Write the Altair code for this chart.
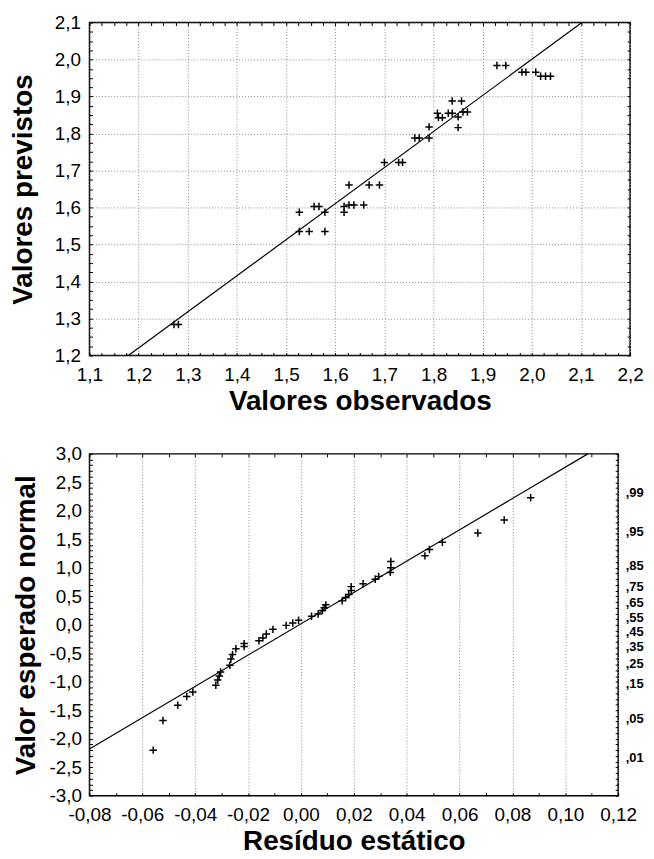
import altair as alt
import pandas as pd
from statistics import NormalDist

# ---------------- data: top panel (observed vs predicted) ----------------
observed = [1.272, 1.281, 1.527, 1.547, 1.579, 1.527, 1.557, 1.567, 1.579, 1.618,
            1.618, 1.628, 1.638, 1.658, 1.628, 1.669, 1.690, 1.700, 1.729, 1.737,
            1.762, 1.771, 1.791, 1.791, 1.808, 1.830, 1.838, 1.810, 1.818, 1.850,
            1.860, 1.869, 1.850, 1.838, 1.857, 1.929, 1.947, 1.980, 1.988, 2.008,
            2.018, 2.028, 2.038]
predicted = [1.284, 1.284, 1.535, 1.535, 1.535, 1.587, 1.603, 1.603, 1.587, 1.603,
             1.587, 1.607, 1.607, 1.607, 1.661, 1.661, 1.661, 1.722, 1.722, 1.722,
             1.788, 1.788, 1.788, 1.818, 1.855, 1.855, 1.855, 1.843, 1.843, 1.845,
             1.858, 1.858, 1.816, 1.888, 1.888, 1.984, 1.984, 1.966, 1.966, 1.966,
             1.955, 1.955, 1.955]
fit_x = [1.179, 2.102]
fit_y = [1.2, 2.1]

# ---------------- data: bottom panel (normal probability plot) ----------------
residual = [-0.0559, -0.0522, -0.0466, -0.0432, -0.0409, -0.0322, -0.0315, -0.0309,
            -0.0304, -0.0269, -0.0265, -0.0259, -0.0246, -0.0215, -0.0215, -0.0159,
            -0.0144, -0.0131, -0.0106, -0.0056, -0.0031, -0.0009, 0.0040, 0.0065,
            0.0081, 0.0088, 0.0094, 0.0156, 0.0169, 0.0181, 0.0190, 0.0190, 0.0235,
            0.0281, 0.0294, 0.0338, 0.0340, 0.0340, 0.0469, 0.0486, 0.0535, 0.0669,
            0.0769, 0.0869]
expected_normal = [-2.20, -1.68, -1.41, -1.26, -1.18, -1.06, -0.97, -0.90, -0.83, -0.71,
                   -0.60, -0.52, -0.42, -0.38, -0.33, -0.28, -0.23, -0.16, -0.08, -0.01,
                   0.03, 0.08, 0.15, 0.19, 0.25, 0.30, 0.35, 0.42, 0.48, 0.53, 0.60,
                   0.67, 0.72, 0.80, 0.85, 0.92, 1.00, 1.11, 1.21, 1.32, 1.45, 1.61,
                   1.84, 2.23]
qline_x = [-0.08, 0.1085]
qline_y = [-2.18, 3.0]

# ---------------- axis tick values ----------------
x1_ticks = [1.1, 1.2, 1.3, 1.4, 1.5, 1.6, 1.7, 1.8, 1.9, 2.0, 2.1, 2.2]
y1_ticks = [1.2, 1.3, 1.4, 1.5, 1.6, 1.7, 1.8, 1.9, 2.0, 2.1]
x2_ticks = [-0.08, -0.06, -0.04, -0.02, 0.0, 0.02, 0.04, 0.06, 0.08, 0.10, 0.12]
y2_ticks = [-3.0, -2.5, -2.0, -1.5, -1.0, -0.5, 0.0, 0.5, 1.0, 1.5, 2.0, 2.5, 3.0]
prob_ticks = [0.01, 0.05, 0.15, 0.25, 0.35, 0.45, 0.55, 0.65, 0.75, 0.85, 0.95, 0.99]
prob_z = [NormalDist().inv_cdf(p) for p in prob_ticks]

x1_minor = [round(1.1 + 0.025 * i, 3) for i in range(45)]
y1_minor = [round(1.2 + 0.025 * i, 3) for i in range(37)]
x2_minor = [round(-0.08 + 0.01 * i, 3) for i in range(21)]
y2_minor = [round(-3.0 + 0.1 * i, 2) for i in range(61)]

FONT = "Liberation Sans"
W1, H1 = 544, 335
W2, H2 = 532, 344
CROSS = "M -1 0 L 1 0 M 0 -1 L 0 1"

LBL1 = "replace(format(datum.value, '.1f'), '.', ',')"
LBL1S = "(datum.value < 0 ? '-' : '') + replace(format(abs(datum.value), '.1f'), '.', ',')"
LBL2S = "(datum.value < 0 ? '-' : '') + replace(format(abs(datum.value), '.2f'), '.', ',')"
LBLP = "replace(format(cumulativeNormal(datum.value), '.2f'), '0.', ',')"

label_style = dict(labelFont=FONT, labelFontSize=19, labelColor="black",
                   labelFlush=False, labelOverlap=False)
title_style = dict(titleFont=FONT, titleFontSize=28, titleFontWeight="bold",
                   titleColor="black")
grid_style = dict(grid=True, gridDash=[1, 2], gridColor="#8a8a8a", gridWidth=1)


def tick_axis(orient, offset, values):
    return alt.Axis(orient=orient, offset=offset, values=values, labels=False,
                    domain=False, grid=False, ticks=True, tickSize=3,
                    tickColor="black", tickWidth=1, title=None)


# ---------------- top panel ----------------
top_df = pd.DataFrame({"obs": observed, "pred": predicted})
fit_df = pd.DataFrame({"x": fit_x, "y": fit_y})
xs1 = alt.Scale(domain=[1.1, 2.2], nice=False, zero=False)
ys1 = alt.Scale(domain=[1.2, 2.1], nice=False, zero=False)

pts1 = alt.Chart(top_df).mark_point(
    shape=CROSS, size=56, filled=False, color="black", strokeWidth=1.5, opacity=1
).encode(
    x=alt.X("obs:Q", scale=xs1, axis=alt.Axis(
        orient="bottom", values=x1_ticks, labelExpr=LBL1, ticks=False, domain=False,
        labelPadding=10, title="Valores observados", titlePadding=3,
        **label_style, **title_style, **grid_style)),
    y=alt.Y("pred:Q", scale=ys1, axis=alt.Axis(
        orient="left", values=y1_ticks, labelExpr=LBL1, ticks=False, domain=False,
        labelPadding=9, minExtent=40, maxExtent=40,
        title="Valores previstos", titlePadding=12,
        **label_style, **title_style, **grid_style)),
)
line1 = alt.Chart(fit_df).mark_line(color="black", strokeWidth=1.2).encode(
    x=alt.X("x:Q", scale=xs1, axis=tick_axis("top", -H1, x1_minor)),
    y=alt.Y("y:Q", scale=ys1, axis=tick_axis("right", -W1, y1_minor)),
)
dummy1 = alt.Chart(fit_df).mark_line(opacity=0).encode(
    x=alt.X("x:Q", scale=xs1, axis=tick_axis("bottom", -H1, x1_minor)),
    y=alt.Y("y:Q", scale=ys1, axis=tick_axis("left", -W1, y1_minor)),
)
top = alt.layer(pts1, line1, dummy1).resolve_axis(
    x="independent", y="independent"
).properties(width=W1, height=H1)

# ---------------- bottom panel ----------------
bot_df = pd.DataFrame({"res": residual, "z": expected_normal})
ql_df = pd.DataFrame({"x": qline_x, "y": qline_y})
xs2 = alt.Scale(domain=[-0.08, 0.12], nice=False, zero=False)
ys2 = alt.Scale(domain=[-3.0, 3.0], nice=False, zero=False)

pts2 = alt.Chart(bot_df).mark_point(
    shape=CROSS, size=56, filled=False, color="black", strokeWidth=1.5, opacity=1
).encode(
    x=alt.X("res:Q", scale=xs2, axis=alt.Axis(
        orient="bottom", values=x2_ticks, labelExpr=LBL2S, ticks=False, domain=False,
        labelPadding=10, title="Resíduo estático", titlePadding=3,
        **label_style, **title_style, **grid_style)),
    y=alt.Y("z:Q", scale=ys2, axis=alt.Axis(
        orient="left", values=y2_ticks, labelExpr=LBL1S, ticks=False, domain=False,
        grid=False, labelPadding=8, minExtent=40, maxExtent=40,
        title="Valor esperado normal", titlePadding=9,
        **label_style, **title_style)),
)
line2 = alt.Chart(ql_df).mark_line(color="black", strokeWidth=1.2).encode(
    x=alt.X("x:Q", scale=xs2, axis=tick_axis("top", -H2, x2_minor)),
    y=alt.Y("y:Q", scale=ys2, axis=alt.Axis(
        orient="right", values=prob_z, labelExpr=LBLP, ticks=False, domain=False,
        grid=False, labelPadding=7, labelFont=FONT, labelFontSize=13,
        labelFontWeight="bold", labelColor="black", labelOverlap=False,
        labelFlush=False, title=None)),
)
dummy2a = alt.Chart(ql_df).mark_line(opacity=0).encode(
    x=alt.X("x:Q", scale=xs2, axis=tick_axis("bottom", -H2, x2_minor)),
    y=alt.Y("y:Q", scale=ys2, axis=tick_axis("right", -W2, y2_minor)),
)
dummy2b = alt.Chart(ql_df).mark_line(opacity=0).encode(
    x=alt.X("x:Q", scale=xs2, axis=None),
    y=alt.Y("y:Q", scale=ys2, axis=tick_axis("left", -W2, y2_minor)),
)
bottom = alt.layer(pts2, line2, dummy2a, dummy2b).resolve_axis(
    x="independent", y="independent"
).properties(width=W2, height=H2)

chart = alt.vconcat(top, bottom, spacing=28).properties(
    padding={"left": 1, "top": 2, "right": 2, "bottom": 0},
    background="white",
).configure_view(stroke="black", strokeWidth=1.5)

chart.save("out.html", embed_options={"renderer": "svg", "actions": False})
